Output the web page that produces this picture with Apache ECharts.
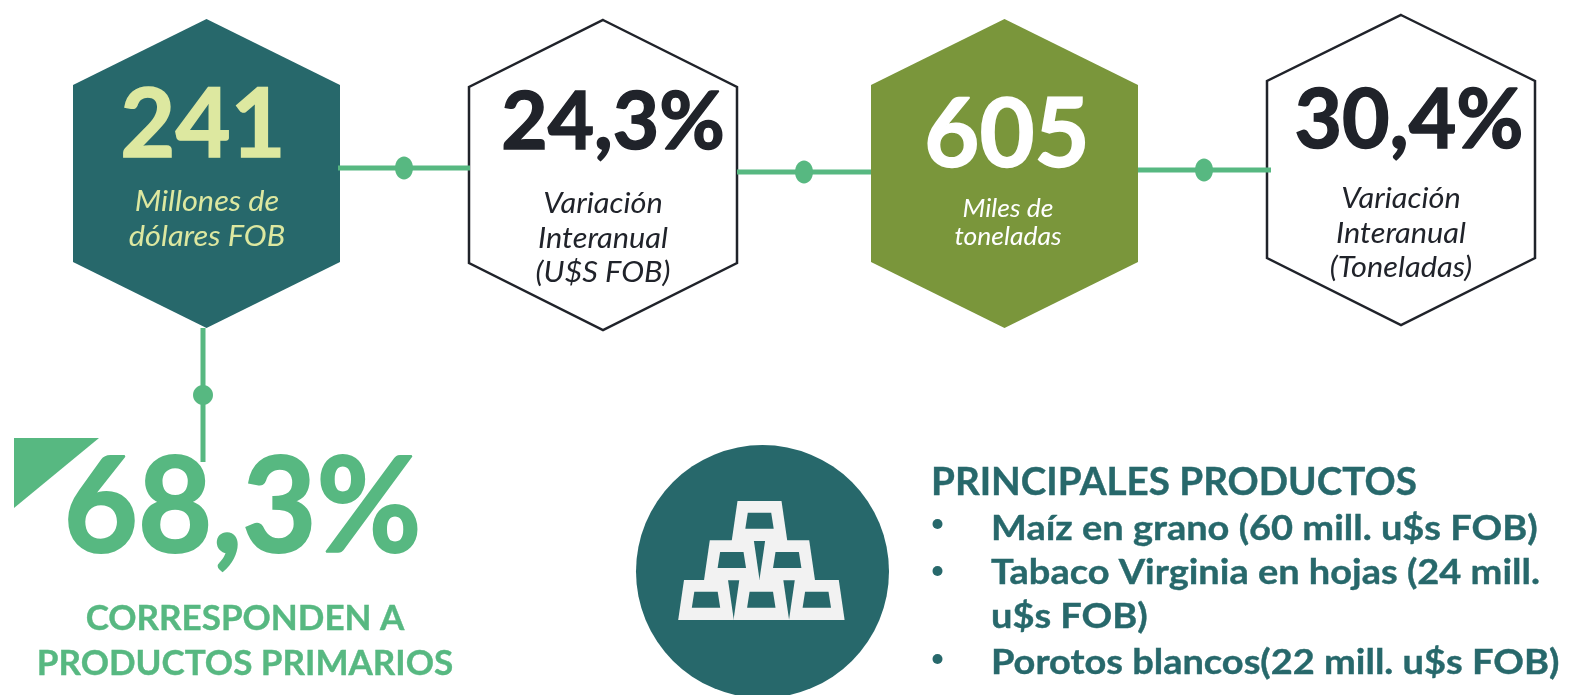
<!DOCTYPE html>
<html>
<head>
<meta charset="utf-8">
<title>Exportaciones</title>
<style>
  html, body { margin: 0; padding: 0; background: #fff; }
  #main { width: 1573px; height: 695px; }
</style>
<script src="https://cdn.jsdelivr.net/npm/echarts@6/dist/echarts.min.js"></script>
</head>
<body>
<div id="main"></div>
<script>
// valores
var kpiValues = ['241', '24,3%', '605', '30,4%'];
var kpiLabels = [
  ['Millones de', 'dólares FOB'],
  ['Variación', 'Interanual', '(U$S FOB)'],
  ['Miles de', 'toneladas'],
  ['Variación', 'Interanual', '(Toneladas)']
];
var shareValue = '68,3%';
var shareLabels = ['CORRESPONDEN A', 'PRODUCTOS PRIMARIOS'];
var listTitle = 'PRINCIPALES PRODUCTOS';
var listItems = [
  ['Maíz en grano (60 mill. u$s FOB)'],
  ['Tabaco Virginia en hojas (24 mill.', 'u$s FOB)'],
  ['Porotos blancos(22 mill. u$s FOB)']
];

var TEAL = '#27686b', GREEN = '#57b881', OLIVE = '#7a963b', LIME = '#dde8a0', INK = '#20232a';
var FONT = 'Lato, "Noto Sans", sans-serif';

// cajas de cada hexagono y estilo de su texto
var hexBoxes = [
  { x0: 73, x1: 340, top: 19, s0: 85, s1: 262, bottom: 328, fill: TEAL, stroke: null, color: LIME, tx: 203, vy: 158, vs: 95, lx: 207, ly: [211, 246], ls: 29 },
  { x0: 469, x1: 737, top: 20, s0: 87, s1: 263, bottom: 330, fill: '#fff', stroke: INK, color: INK, tx: 613, vy: 150, vs: 80, lx: 603, ly: [213, 248, 282], ls: 29 },
  { x0: 871, x1: 1138, top: 19, s0: 85, s1: 262, bottom: 328, fill: OLIVE, stroke: null, color: '#fff', tx: 1007, vy: 168, vs: 95, lx: 1008, ly: [217, 245], ls: 25 },
  { x0: 1267, x1: 1535, top: 15, s0: 81, s1: 258, bottom: 325, fill: '#fff', stroke: INK, color: INK, tx: 1409, vy: 149, vs: 82, lx: 1401, ly: [208, 243, 277], ls: 29 }
];

// texto centrado o a la izquierda, con engrosado y ancho ajustables
function label(str, x, baseline, size, color, opts) {
  opts = opts || {};
  return {
    type: 'text',
    z2: 10,
    x: x,
    y: baseline - size * 0.33,
    scaleX: opts.sx || 1,
    style: {
      text: str,
      x: 0,
      y: 0,
      align: opts.align || 'center',
      verticalAlign: 'middle',
      fill: color,
      stroke: opts.thick ? color : null,
      lineWidth: opts.thick || 0,
      font: (opts.style || 'normal') + ' ' + (opts.weight || 700) + ' ' + size + 'px ' + FONT
    }
  };
}

function renderHex(params, api) {
  var i = params.dataIndex;
  var b = hexBoxes[i];
  var cx = (b.x0 + b.x1) / 2;
  var children = [{
    type: 'polygon',
    shape: { points: [[cx, b.top], [b.x1, b.s0], [b.x1, b.s1], [cx, b.bottom], [b.x0, b.s1], [b.x0, b.s0]] },
    style: { fill: b.fill, stroke: b.stroke, lineWidth: b.stroke ? 2.5 : 0 }
  }];
  children.push(label(kpiValues[i], b.tx, b.vy, b.vs, b.color, { thick: 1.5 }));
  kpiLabels[i].forEach(function (line, n) {
    children.push(label(line, b.lx, b.ly[n], b.ls, b.color, { weight: 400, style: 'italic', sx: 1.06 }));
  });
  return { type: 'group', children: children };
}

// lingote: trapecio claro con hueco
function bar(cx, top) {
  return [
    { type: 'polygon', z: 4, shape: { points: [[cx - 22, top], [cx + 22, top], [cx + 27.8, top + 40], [cx - 27.8, top + 40]] }, style: { fill: '#f2f2f2' } },
    { type: 'polygon', z: 5, shape: { points: [[cx - 11.7, top + 11.7], [cx + 11.7, top + 11.7], [cx + 14.2, top + 27.7], [cx - 14.2, top + 27.7]] }, style: { fill: TEAL } }
  ];
}

function connector(x0, y0, x1, y1, dx, dy, rx, ry) {
  return [
    { type: 'line', z: 6, shape: { x1: x0, y1: y0, x2: x1, y2: y1 }, style: { stroke: GREEN, lineWidth: 5 } },
    { type: 'ellipse', z: 6, shape: { cx: dx, cy: dy, rx: rx, ry: ry }, style: { fill: GREEN } }
  ];
}

function gtext(str, x, baseline, size, color, opts) {
  var t = label(str, x, baseline, size, color, opts);
  t.z = 8;
  return t;
}

var elements = [].concat(
  connector(338, 168, 470, 168, 404, 168, 9, 11.5),
  connector(737, 172, 871, 172, 804, 172, 9, 11.5),
  connector(1138, 170, 1271, 170, 1204, 170, 9, 11.5),
  connector(203, 328, 203, 462, 203, 395, 10, 10),
  [{ type: 'polygon', z: 3, shape: { points: [[14, 438], [99, 438], [14, 508]] }, style: { fill: GREEN } }],
  [{ type: 'circle', z: 3, shape: { cx: 762.5, cy: 571.5, r: 126.5 }, style: { fill: TEAL } }],
  bar(759.5, 501), bar(731.8, 540.3), bar(787.2, 540.3), bar(706, 580), bar(761.3, 580), bar(816.8, 580)
);

elements.push(gtext(shareValue, 242.5, 553, 132, GREEN, { sx: 0.97, thick: 2 }));
elements.push(gtext(shareLabels[0], 245, 630, 35, GREEN, { thick: 0.4 }));
elements.push(gtext(shareLabels[1], 245, 675, 35, GREEN, { thick: 0.4 }));
elements.push(gtext(listTitle, 931, 495, 38.6, TEAL, { align: 'left', thick: 0.4 }));

var itemBaselines = [540, 584, 628, 674];
var bulletYs = [524, 571, 659];
var row = 0;
listItems.forEach(function (item, i) {
  elements.push({ type: 'circle', z: 8, shape: { cx: 937.5, cy: bulletYs[i], r: 5 }, style: { fill: TEAL } });
  item.forEach(function (line) {
    elements.push(gtext(line, 991, itemBaselines[row], 35, TEAL, { align: 'left', sx: 1.085, thick: 0.4 }));
    row++;
  });
});

var chart = echarts.init(document.getElementById('main'));
chart.setOption({
  animation: false,
  backgroundColor: '#fff',
  graphic: { elements: elements },
  series: [{
    type: 'custom',
    coordinateSystem: 'none',
    silent: true,
    z: 1,
    renderItem: renderHex,
    data: kpiValues
  }]
});
</script>
</body>
</html>
